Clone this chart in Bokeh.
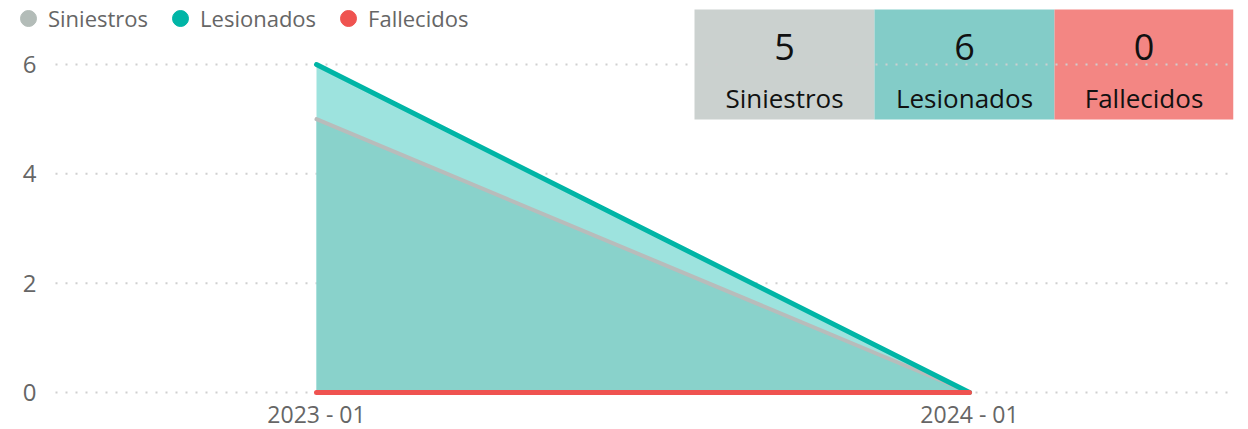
from bokeh.plotting import figure
from bokeh.models import (Legend, LegendItem, BoxAnnotation, Label, LabelSet,
                          Range1d, ColumnDataSource)
from bokeh.core.properties import value
from bokeh.embed import file_html
from bokeh.resources import INLINE

# ---- data ----
periods = ["2023 - 01", "2024 - 01"]
siniestros = [5, 0]
lesionados = [6, 0]
fallecidos = [0, 0]
y_ticks = [0, 2, 4, 6]
kpi_labels = ["Siniestros", "Lesionados", "Fallecidos"]
kpi_values = [sum(siniestros), sum(lesionados), sum(fallecidos)]

# ---- style ----
FONT = "Open Sans"
AXIS_COLOR = "#666666"
C_SIN, C_LES, C_FAL = "#b3bcb8", "#00b5a6", "#ef5350"
AREA_LES, AREA_SIN = "#9de3de", "#89d2cb"
BOX_COLORS = ["#c5ccca", "#76c7c2", "#f27975"]

# layout (picture pixels)
W, H = 1248, 429
FRAME_L, FRAME_R, FRAME_T, FRAME_B = 0, 1233, 0, 429
GRID_L = 55
YLAB_X = 36
XLAB_Y = 413
X0_PX, X1_PX = 316.0, 969.0          # positions of first / last period
Y0_PX, Y6_PX = 392.0, 64.0           # positions of y=0 / y=6

unit_x = X1_PX - X0_PX
unit_y = (Y0_PX - Y6_PX) / 6.0

def px2x(px):
    return (px - X0_PX) / unit_x

def py2y(py):
    return (Y0_PX - py) / unit_y

xs = list(range(len(periods)))

p = figure(width=W, height=H, output_backend="svg", toolbar_location=None,
           x_range=Range1d(px2x(FRAME_L), px2x(FRAME_R)),
           y_range=Range1d(py2y(FRAME_B), py2y(FRAME_T)),
           min_border_left=FRAME_L, min_border_right=W - FRAME_R,
           min_border_top=FRAME_T, min_border_bottom=H - FRAME_B)
p.outline_line_color = None
p.background_fill_color = "white"
p.xaxis.visible = False
p.yaxis.visible = False
p.xgrid.grid_line_color = None
p.ygrid.grid_line_color = None

# dotted horizontal grid lines at the y ticks
n = len(y_ticks)
p.segment(x0=[px2x(GRID_L)] * n, x1=[px2x(FRAME_R)] * n, y0=y_ticks, y1=y_ticks,
          line_color="#cfcfcf", line_width=2, line_dash="2 8")

# y tick labels
ysrc = ColumnDataSource(dict(x=[px2x(YLAB_X)] * n, y=y_ticks, text=[str(t) for t in y_ticks]))
p.add_layout(LabelSet(x="x", y="y", text="text", source=ysrc, text_align="right",
                      text_baseline="middle", text_font=value(FONT),
                      text_font_size=value("24px"), text_color=AXIS_COLOR))

# x tick labels
xsrc = ColumnDataSource(dict(x=xs, y=[py2y(XLAB_Y)] * len(xs), text=periods))
p.add_layout(LabelSet(x="x", y="y", text="text", source=xsrc, text_align="center",
                      text_baseline="middle", text_font=value(FONT),
                      text_font_size=value("23px"), text_color=AXIS_COLOR))

# areas
p.varea(x=xs, y1=[0] * len(xs), y2=lesionados, fill_color=AREA_LES)
p.varea(x=xs, y1=[0] * len(xs), y2=siniestros, fill_color=AREA_SIN)

# lines
p.line(xs, siniestros, line_color="#b8bcbb", line_width=4, line_cap="round")
p.line(xs, lesionados, line_color=C_LES, line_width=5, line_cap="round")
p.line(xs, fallecidos, line_color=C_FAL, line_width=5, line_cap="round")

# hidden point markers, used only as legend glyphs
r1 = p.scatter(xs, siniestros, size=16, marker="circle", fill_color=C_SIN, line_color=C_SIN, visible=False)
r2 = p.scatter(xs, lesionados, size=16, marker="circle", fill_color=C_LES, line_color=C_LES, visible=False)
r3 = p.scatter(xs, fallecidos, size=16, marker="circle", fill_color=C_FAL, line_color=C_FAL, visible=False)

# KPI boxes
box_edges = [694, 874, 1054, 1233]
for i, (lab, val) in enumerate(zip(kpi_labels, kpi_values)):
    l, r = px2x(box_edges[i]), px2x(box_edges[i + 1])
    p.add_layout(BoxAnnotation(left=l, right=r, top=py2y(9), bottom=py2y(119),
                               fill_color=BOX_COLORS[i], fill_alpha=0.9, line_color=None,
                               level="underlay"))
    cx = (l + r) / 2
    p.add_layout(Label(x=cx, y=py2y(46), text=str(val), text_align="center",
                       text_baseline="middle", text_font=FONT, text_font_size="36px",
                       text_color="#111111"))
    p.add_layout(Label(x=cx, y=py2y(97), text=lab, text_align="center",
                       text_baseline="middle", text_font=FONT, text_font_size="26px",
                       text_color="#111111"))

# legend (marker glyph size is 0.4 x the glyph box)
legend = Legend(items=[LegendItem(label="Siniestros", renderers=[r1]),
                       LegendItem(label="Lesionados", renderers=[r2]),
                       LegendItem(label="Fallecidos", renderers=[r3])],
                orientation="horizontal", location=(8, 391),
                label_text_font=FONT, label_text_font_size="22px", label_text_color=AXIS_COLOR,
                glyph_width=40, glyph_height=40, label_standoff=0, spacing=12,
                padding=0, margin=0, background_fill_alpha=0, border_line_color=None,
                inactive_fill_alpha=0)
p.add_layout(legend, "center")

open("out.html", "w").write(file_html(p, INLINE))
